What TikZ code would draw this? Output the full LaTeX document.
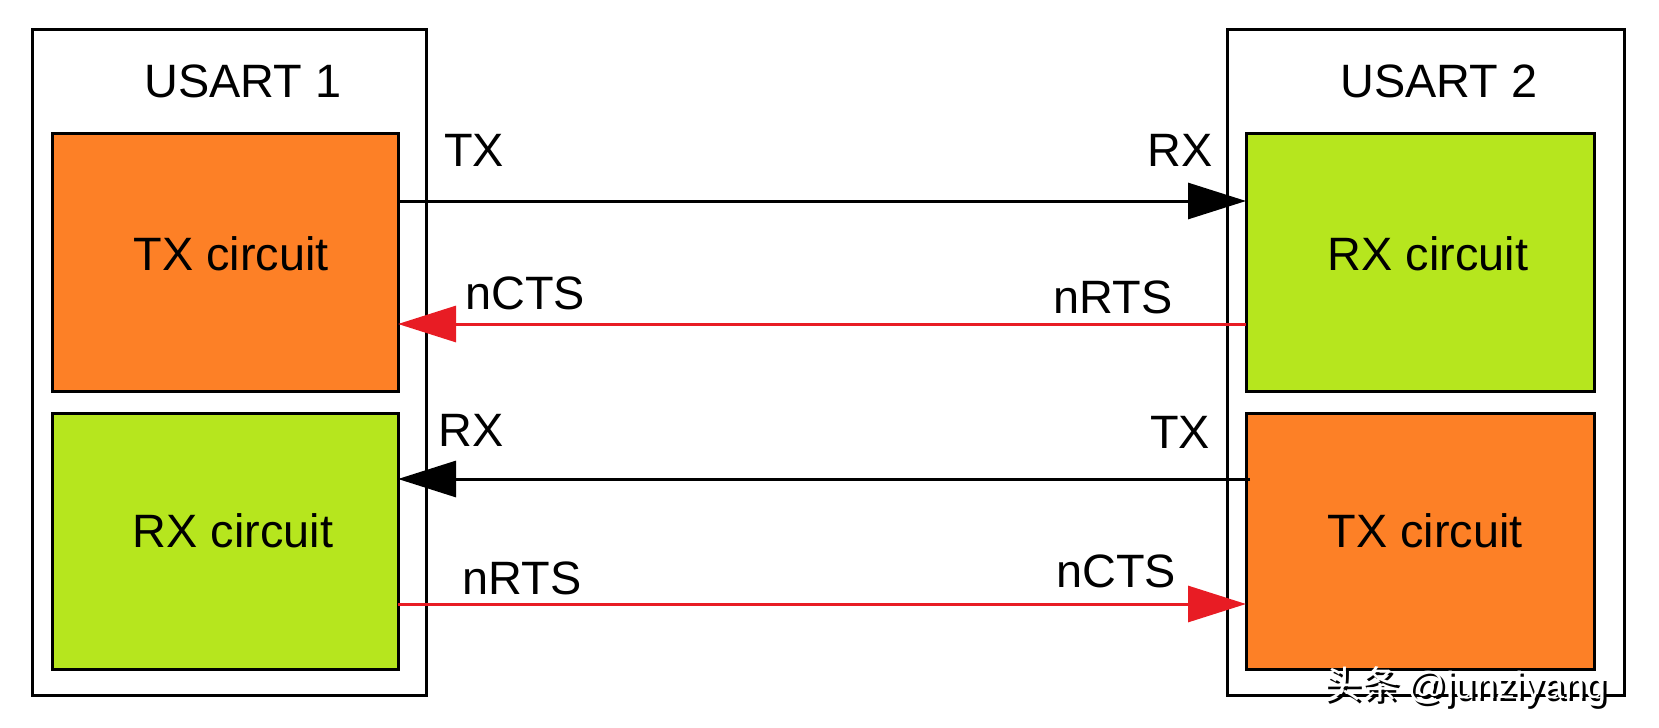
\documentclass[tikz,border=0pt]{standalone}
\usepackage{fontspec}
\setmainfont{Liberation Sans}
\newfontfamily\cjk{Noto Sans CJK SC}
\usetikzlibrary{arrows.meta}
\definecolor{org}{RGB}{253,128,38}
\definecolor{grn}{RGB}{182,230,30}
\definecolor{rd}{RGB}{232,28,36}
\begin{document}
\begin{tikzpicture}[x=1bp,y=-1bp,
  box/.style={draw,line width=3bp},
  lbl/.style={font=\fontsize{47}{52}\selectfont},
  wmk/.style={font=\fontsize{38}{42}\selectfont},
  arr/.style={line width=3bp,-{Triangle[length=58bp,width=36bp]}}]
\useasboundingbox (0,0) rectangle (1659,728);
\draw[box] (32,30) rectangle (426,695);
\draw[box] (1227,30) rectangle (1624,695);
\node[lbl] (u1) at (243,81) {USART 1};
\node[lbl] (u2) at (1439,81) {USART 2};
\draw[box,fill=org] (52,134) rectangle (398,391);
\draw[box,fill=grn] (52,413) rectangle (398,669);
\draw[box,fill=grn] (1246,134) rectangle (1594,391);
\draw[box,fill=org] (1246,413) rectangle (1594,669);
\node[lbl] (t1) at (231,254) {TX circuit};
\node[lbl] (r1) at (233,531) {RX circuit};
\node[lbl] (r2) at (1428,254) {RX circuit};
\node[lbl] (t2) at (1425,531) {TX circuit};
\coordinate (a1) at (398,201); \coordinate (b1) at (1246,201);
\coordinate (a2) at (1246,324); \coordinate (b2) at (398,324);
\coordinate (a3) at (1250,479); \coordinate (b3) at (398,479);
\coordinate (a4) at (398,604); \coordinate (b4) at (1246,604);
\draw[arr] (a1) -- (b1);
\draw[arr,draw=rd,fill=rd] (a2) -- (b2);
\draw[arr] (a3) -- (b3);
\draw[arr,draw=rd,fill=rd] (a4) -- (b4);
\node[lbl] (l1) at (474,150) {TX};
\node[lbl] (l2) at (1180,150) {RX};
\node[lbl] (l3) at (525,293) {nCTS};
\node[lbl] (l4) at (1113,297) {nRTS};
\node[lbl] (l5) at (471,430) {RX};
\node[lbl] (l6) at (1180,432) {TX};
\node[lbl] (l7) at (522,578) {nRTS};
\node[lbl] (l8) at (1116,571) {nCTS};
\node[wmk,text=black] (ws) at (1468,689) {\cjk 头条 \rmfamily @junziyang};
\node[wmk,text=white] (wm) at (1465,686) {\cjk 头条 \rmfamily @junziyang};
\end{tikzpicture}
\end{document}
